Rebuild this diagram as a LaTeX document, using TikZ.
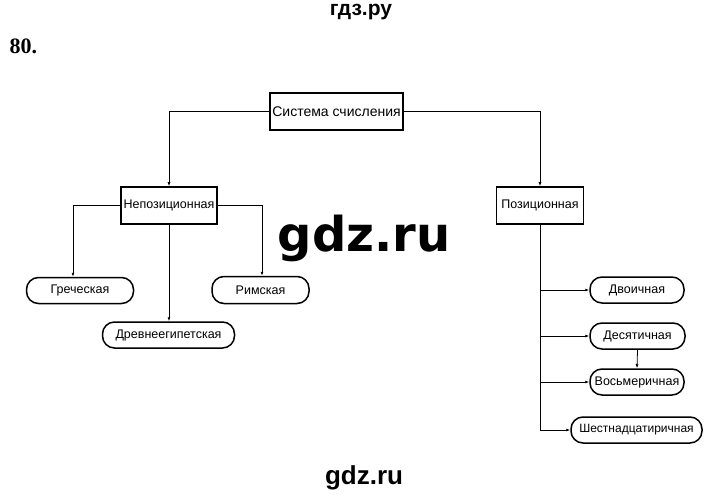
\documentclass[tikz,border=0pt]{standalone}
\usepackage{fontspec}
\setmainfont{Liberation Sans}
\newfontfamily\wmfont{DejaVu Sans}
\newfontfamily\seriffont{Liberation Serif}
\usetikzlibrary{arrows.meta}
\begin{document}
\begin{tikzpicture}[x=1pt,y=-1pt,
  sqbox/.style={draw, line width=1.5pt, inner sep=0pt, font=\fontsize{12.5}{14}\selectfont},
  rbox/.style={draw, line width=1.5pt, rounded corners=12pt, inner sep=0pt, font=\fontsize{12.5}{14}\selectfont},
  conn/.style={line width=0.8pt, -{Latex[length=4pt,width=3pt]}},
  plain/.style={line width=0.8pt}]
\useasboundingbox (0,0) rectangle (720,497);
\node[font=\bfseries\fontsize{21}{24}\selectfont] (t1) at (361,12) {гдз.ру};
\node[font=\seriffont\bfseries\fontsize{22}{24}\selectfont, anchor=west] (t2) at (6,46) {80.};
\node[font=\wmfont\bfseries\fontsize{48}{50}\selectfont] (wm) at (364,238) {gdz.ru};
\node[font=\bfseries\fontsize{26}{28}\selectfont] (wm2) at (364,478) {gdz.ru};

\node[sqbox, minimum width=133pt, minimum height=37pt, font=\fontsize{14}{16}\selectfont] (sys) at (336.5,111.5) {Система счисления};
\node[sqbox, minimum width=96pt, minimum height=37pt] (nep) at (169,205.5) {Непозиционная};
\node[sqbox, minimum width=87pt, minimum height=37pt] (poz) at (540,205.5) {Позиционная};

\node[rbox, minimum width=107pt, minimum height=26pt] (gr) at (80,290.5) {Греческая};
\node[rbox, minimum width=97pt, minimum height=27pt] (rim) at (260.5,290) {Римская};
\node[rbox, minimum width=132pt, minimum height=26pt] (egy) at (168.5,335) {Древнеегипетская};

\node[rbox, minimum width=94pt, minimum height=26pt] (dv) at (637,290) {Двоичная};
\node[rbox, minimum width=95pt, minimum height=26pt] (des) at (637.5,336) {Десятичная};
\node[rbox, minimum width=94pt, minimum height=26pt] (vos) at (637,382) {Восьмеричная};
\node[rbox, minimum width=131pt, minimum height=26pt, font=\fontsize{12}{14}\selectfont] (sh) at (636.5,430) {Шестнадцатиричная};

\draw[conn] (sys.west) -| (nep.north);
\draw[conn] (sys.east) -| (poz.north);
\draw[conn] (nep.west) -| (gr.north -| 73,0);
\draw[conn] (nep.east) -| (rim.north -| 262,0);
\draw[conn] (nep.south) -- (egy.north -| nep.south);
\draw[plain] (poz.south) -- (poz.south |- sh.west);
\draw[conn] (poz.south |- dv.west) -- (dv.west);
\draw[conn] (poz.south |- des.west) -- (des.west);
\draw[conn] (poz.south |- vos.west) -- (vos.west);
\draw[conn] (poz.south |- sh.west) -- (sh.west);
\draw[conn] (des.south) -- (vos.north);
\end{tikzpicture}
\end{document}
